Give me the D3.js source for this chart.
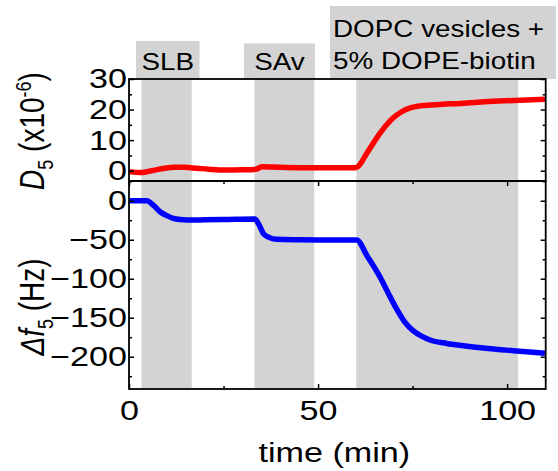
<!DOCTYPE html>
<html>
<head>
<meta charset="utf-8">
<script src="https://cdn.jsdelivr.net/npm/d3@7"></script>
<style>
  body { margin: 0; background: #fff; }
  text { font-family: "Liberation Sans", Arial, sans-serif; fill: #000; }
</style>
</head>
<body>
<script>
// time (min) and dissipation D5 (x1e-6)
const timeD = [0, 3.4, 6, 9.5, 12, 14.8, 18, 21, 25.4, 30, 32.5, 33.9, 35.1, 40, 45, 50, 55, 59.8, 60.5, 62.9, 66.4, 69.9, 72, 74, 77, 80, 88.4, 95, 101.7, 110];
const dissipation = [-0.3, -0.6, 0, 0.8, 1.1, 1.1, 0.8, 0.5, 0.2, 0.3, 0.3, 0.6, 1.3, 1.1, 1.0, 1.0, 1.0, 1.0, 1.3, 5.7, 12.3, 17.3, 19.2, 20.4, 21.2, 21.5, 22.1, 22.6, 23.0, 23.4];

// time (min) and frequency shift f5 (Hz)
const timeF = [0, 4.7, 6.5, 8.2, 10, 11.7, 13.5, 15.3, 20, 25, 33.3, 34.3, 35.5, 37, 39, 45, 50, 55, 60.2, 63, 66.4, 68.5, 70.8, 73, 75.2, 77.5, 79.6, 84, 88.4, 95, 101.7, 110];
const freqShift = [0, 0, -6, -14.1, -19, -22.6, -24.2, -24.7, -24.5, -24.2, -23.5, -30, -41.8, -47, -49.5, -50, -50.2, -50.3, -50.4, -71, -98, -118, -139, -156, -167, -174, -178.6, -183, -185.9, -189.5, -192.3, -195.6];

// injection steps (start, end in min)
const stepNames = ["SLB", "SAv", "DOPC vesicles +|5% DOPE-biotin"];
const stepStart = [3.3, 33.2, 60.1];
const stepEnd = [16.6, 49.0, 102.9];

const xTicks = [0, 50, 100];
const xMinor = [25, 75];
const dTicks = [0, 10, 20, 30];
const dMinor = [5, 15, 25];
const fTicks = [0, -50, -100, -150, -200];
const fMinor = [25, -25, -75, -125, -175, -225];

const W = 558, H = 471;
const SX = 1.22; // the picture is stretched sideways
const left = 129, right = 545.7;
const topY0 = 79, midY = 181, botY1 = 389;
const gray = "#d3d3d3";

const svg = d3.select("body").append("svg")
  .attr("width", W)
  .attr("height", H);

const x = d3.scaleLinear().domain([0, 110.2]).range([left, right]);
const yD = d3.scaleLinear().domain([-3.37, 30]).range([midY, topY0]);
const yF = d3.scaleLinear().domain([-241.4, 25.3]).range([botY1, midY]);

// shaded injection bands
svg.selectAll("rect.band")
  .data(stepStart)
  .enter().append("rect")
  .attr("class", "band")
  .attr("x", d => x(d))
  .attr("width", (d, i) => x(stepEnd[i]) - x(d))
  .attr("y", topY0)
  .attr("height", botY1 - topY0)
  .attr("fill", gray);

// label boxes above the plot
const boxes = [
  {x0: 136, x1: 199.5, y0: 41},
  {x0: 244, x1: 315, y0: 43.5},
  {x0: 330, x1: 556, y0: 6}
];
boxes.forEach((b, i) => {
  svg.append("rect")
    .attr("x", b.x0).attr("y", b.y0)
    .attr("width", b.x1 - b.x0).attr("height", topY0 - b.y0)
    .attr("fill", gray);
  const lines = stepNames[i].split("|");
  lines.forEach((s, j) => {
    svg.append("text")
      .attr("font-size", 24)
      .attr("transform", lines.length > 1
        ? `translate(${b.x0 + 3},${37 + j * 32}) scale(1.16,1)`
        : `translate(${(b.x0 + b.x1) / 2},70) scale(1.16,1)`)
      .attr("text-anchor", lines.length > 1 ? "start" : "middle")
      .text(s);
  });
});

// curves
const lineD = d3.line()
  .x((d, i) => x(timeD[i]))
  .y(d => yD(d))
  .curve(d3.curveMonotoneX);
const lineF = d3.line()
  .x((d, i) => x(timeF[i]))
  .y(d => yF(d))
  .curve(d3.curveMonotoneX);

svg.append("path")
  .datum(dissipation)
  .attr("d", lineD)
  .attr("fill", "none")
  .attr("stroke", "#ff0000")
  .attr("stroke-width", 5.5)
  .attr("stroke-linejoin", "round");

svg.append("path")
  .datum(freqShift)
  .attr("d", lineF)
  .attr("fill", "none")
  .attr("stroke", "#0000ff")
  .attr("stroke-width", 5.5)
  .attr("stroke-linejoin", "round");

// axes helper: ticks point inward, domain path removed
function drawAxis(axis, tx, ty, labels, pad) {
  const g = svg.append("g")
    .attr("transform", `translate(${tx},${ty})`)
    .call(axis);
  g.select(".domain").remove();
  g.selectAll("line").attr("stroke", "#000").attr("stroke-width", 1.5);
  if (labels) {
    g.selectAll("text")
      .attr("font-size", 28)
      .attr("font-family", "Liberation Sans, Arial, sans-serif")
      .attr("fill", "#000");
    if (pad !== undefined) {
      g.selectAll("text").attr("x", -pad / SX);
    }
    g.selectAll("text").attr("transform", `scale(${SX},1)`);
  }
  return g;
}

// top panel (D5)
drawAxis(d3.axisLeft(yD).tickValues(dTicks).tickSize(-5).tickPadding(3), left, 0, true, 2);
drawAxis(d3.axisLeft(yD).tickValues(dMinor).tickSize(-3).tickFormat(""), left, 0, false);
drawAxis(d3.axisRight(yD).tickValues(dTicks).tickSize(-5).tickFormat(""), right, 0, false);
drawAxis(d3.axisRight(yD).tickValues(dMinor).tickSize(-3).tickFormat(""), right, 0, false);

// bottom panel (f5)
drawAxis(d3.axisLeft(yF).tickValues(fTicks).tickSize(-5).tickPadding(3), left, 0, true, 2);
drawAxis(d3.axisLeft(yF).tickValues(fMinor).tickSize(-3).tickFormat(""), left, 0, false);
drawAxis(d3.axisRight(yF).tickValues(fTicks).tickSize(-5).tickFormat(""), right, 0, false);
drawAxis(d3.axisRight(yF).tickValues(fMinor).tickSize(-3).tickFormat(""), right, 0, false);

// time axes
drawAxis(d3.axisBottom(x).tickValues(xTicks).tickSize(-5).tickPadding(11), 0, botY1, true);
drawAxis(d3.axisBottom(x).tickValues(xMinor).tickSize(-3).tickFormat(""), 0, botY1, false);
drawAxis(d3.axisTop(x).tickValues(xTicks).tickSize(-5).tickFormat(""), 0, midY, false);
drawAxis(d3.axisTop(x).tickValues(xMinor).tickSize(-3).tickFormat(""), 0, midY, false);

// panel frames
[[topY0, midY], [midY, botY1]].forEach(p => {
  svg.append("rect")
    .attr("x", left).attr("y", p[0])
    .attr("width", right - left).attr("height", p[1] - p[0])
    .attr("fill", "none")
    .attr("stroke", "#000")
    .attr("stroke-width", 1.8);
});

// axis titles
svg.append("text")
  .attr("font-size", 28)
  .attr("text-anchor", "middle")
  .attr("transform", `translate(${(left + right) / 2 - 3},462) scale(${SX},1)`)
  .text("time (min)");

const tD = svg.append("text")
  .attr("font-size", 28)
  .attr("text-anchor", "middle")
  .attr("transform", `translate(44,131) scale(${SX},1) rotate(-90)`);
tD.append("tspan").attr("font-style", "italic").text("D");
tD.append("tspan").attr("font-size", 18).attr("dy", 7).text("5");
tD.append("tspan").attr("dy", -7).text(" (x10");
tD.append("tspan").attr("font-size", 18).attr("dy", -11).text("-6");
tD.append("tspan").attr("dy", 11).text(")");

const tF = svg.append("text")
  .attr("font-size", 28)
  .attr("text-anchor", "middle")
  .attr("transform", `translate(44,307) scale(${SX},1) rotate(-90)`);
tF.append("tspan").attr("font-style", "italic").text("Δf");
tF.append("tspan").attr("font-size", 18).attr("dy", 7).text("5");
tF.append("tspan").attr("dy", -7).text(" (Hz)");
</script>
</body>
</html>
